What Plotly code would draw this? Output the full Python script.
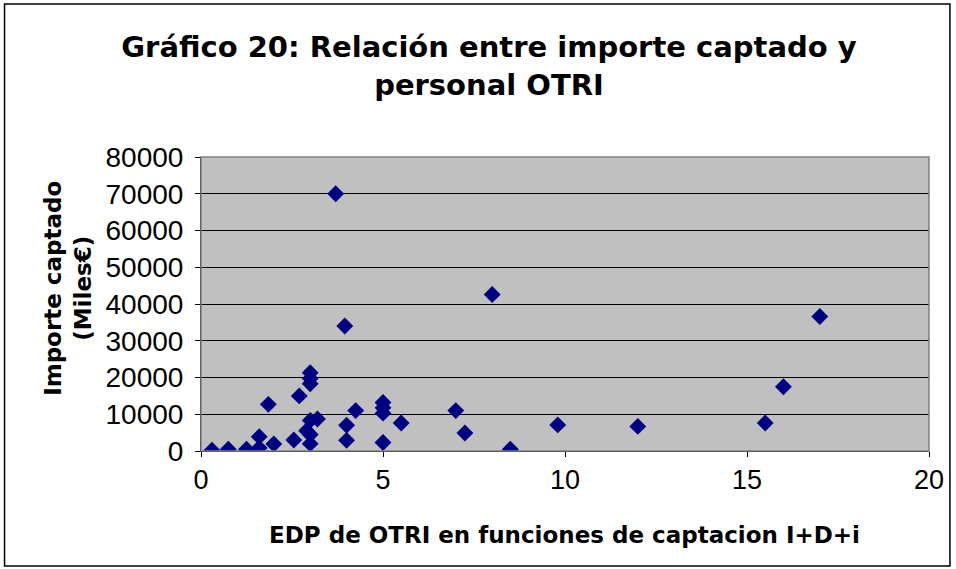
import plotly.graph_objects as go

# EDP de OTRI (x) vs importe captado en miles de euros (y)
edp = [0.3, 0.75, 1.25, 1.6, 1.6, 2.0, 1.85, 2.55, 2.7, 3.0, 3.0, 3.0, 3.0, 3.0, 3.0,
       3.2, 2.9, 3.7, 3.95, 4.0, 4.0, 4.25, 5.0, 5.0, 5.0, 5.0, 5.5, 7.0, 7.25, 8.0,
       8.5, 9.8, 12.0, 15.5, 16.0, 17.0]
importe = [200, 500, 500, 800, 3900, 1900, 12700, 3000, 15000, 21300, 19700, 18300, 8300,
           4500, 2000, 8700, 5500, 70000, 34000, 7000, 2900, 11000, 13200, 11800, 10300,
           2300, 7600, 11000, 4900, 42600, 500, 7100, 6700, 7600, 17500, 36600]

W, H = 956, 569
L, R, T, B = 201, 25, 157, 118
pw, ph = W - L - R, H - T - B

fig = go.Figure(go.Scatter(
    x=edp, y=importe, mode="markers",
    marker=dict(symbol="diamond", size=13, color="#000080"),
    showlegend=False,
))

tick_font = "Liberation Sans, Arial, sans-serif"
bold_font = "DejaVu Sans, Verdana, sans-serif"

fig.update_layout(
    width=W, height=H,
    margin=dict(l=L, r=R, t=T, b=B),
    paper_bgcolor="white",
    plot_bgcolor="#C0C0C0",
    font=dict(family=tick_font, color="black"),
    title=dict(
        text="<b>Gráfico 20: Relación entre importe captado y<br>personal OTRI</b>",
        x=489 / W, xanchor="center", y=1 - 57 / H, yanchor="middle",
        font=dict(family=bold_font, size=29),
    ),
    xaxis=dict(
        range=[0, 20], dtick=5, showgrid=False, zeroline=False,
        showline=True, linecolor="black", linewidth=1,
        ticks="outside", ticklen=5, tickcolor="black",
        tickfont=dict(size=27),
    ),
    yaxis=dict(
        range=[0, 80000], dtick=10000, tickformat="d",
        showgrid=True, gridcolor="black", gridwidth=1,
        zeroline=False, showline=True, linecolor="black", linewidth=1,
        ticks="outside", ticklen=5, tickcolor="black",
        tickfont=dict(size=28), ticklabelstandoff=6,
    ),
    annotations=[
        dict(text="<b>EDP de OTRI en funciones de captacion I+D+i</b>",
             xref="paper", yref="paper", x=(565 - L) / pw, y=(H - B - 535) / ph,
             xanchor="center", yanchor="middle", showarrow=False,
             font=dict(family=bold_font, size=23)),
        dict(text="<b>Importe captado<br>(Miles€)</b>", textangle=-90,
             xref="paper", yref="paper", x=(67.5 - L) / pw, y=(H - B - 288) / ph,
             xanchor="center", yanchor="middle", showarrow=False,
             font=dict(family=bold_font, size=23)),
    ],
    shapes=[
        # plot area border
        dict(type="rect", xref="paper", yref="paper", x0=0, x1=1, y0=0, y1=1,
             line=dict(color="#808080", width=1.5), layer="above"),
        # outer chart border
        dict(type="rect", xref="paper", yref="paper",
             x0=(4 - L) / pw, x1=(952 - L) / pw,
             y0=(H - B - 566) / ph, y1=(H - B - 4) / ph,
             line=dict(color="black", width=1.5)),
    ],
)

fig.write_html("out.html", config={"displayModeBar": False},
               post_script="document.body.style.margin='0';")
